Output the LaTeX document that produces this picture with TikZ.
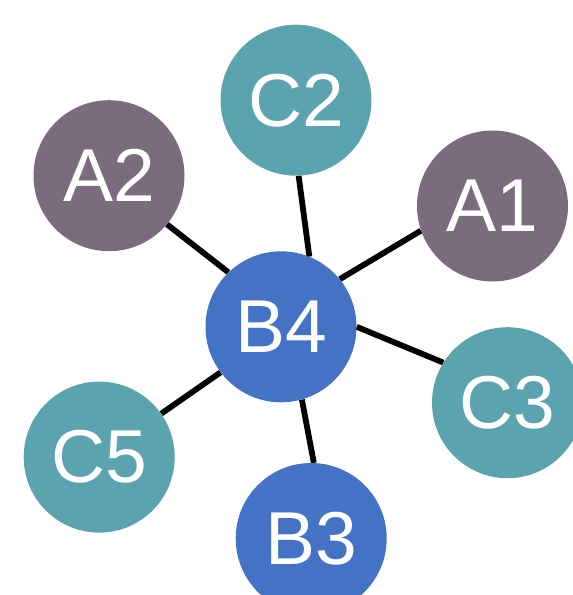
\documentclass[tikz,border=0pt]{standalone}
\usepackage{fontspec}
\setmainfont{Liberation Sans}
\usetikzlibrary{backgrounds}
\definecolor{tealnode}{HTML}{5BA3AE}
\definecolor{plumnode}{HTML}{7A6B7D}
\definecolor{bluenode}{HTML}{4472C4}
\tikzset{
  vertex/.style={circle, minimum size=151pt, inner sep=0pt,
    text=white, font=\fontsize{75}{82}\selectfont},
  tealv/.style={vertex, fill=tealnode},
  plumv/.style={vertex, fill=plumnode},
  bluev/.style={vertex, fill=bluenode},
  link/.style={line width=5.8pt, draw=black}
}
\begin{document}
\begin{tikzpicture}[x=1pt,y=-1pt]
  \useasboundingbox (0,0) rectangle (573,595);
  \clip (0,0) rectangle (573,595);
  \node[tealv] (c2) at (296,100.2) {C2};
  \node[plumv] (a2) at (109,175.7) {A2};
  \node[plumv] (a1) at (492.5,206) {A1};
  \node[bluev] (b4) at (281,326.8) {B4};
  \node[tealv] (c3) at (507.5,402.7) {C3};
  \node[tealv] (c5) at (99.2,457.1) {C5};
  \node[bluev] (b3) at (311.2,538.5) {B3};
  % spokes from the hub, kept behind the discs
  \begin{scope}[on background layer]
    \draw[link] (b4.68.5)  -- (c2.272.8);
    \draw[link] (b4.134.1) -- (a2.320.5);
    \draw[link] (b4.39.1)  -- (a1.199.9);
    \draw[link] (b4.0)     -- (c3.148.3);
    \draw[link] (b4.217)   -- (c5.35.7);
    \draw[link] (b4.286.4) -- (b3.88.2);
  \end{scope}
\end{tikzpicture}
\end{document}
